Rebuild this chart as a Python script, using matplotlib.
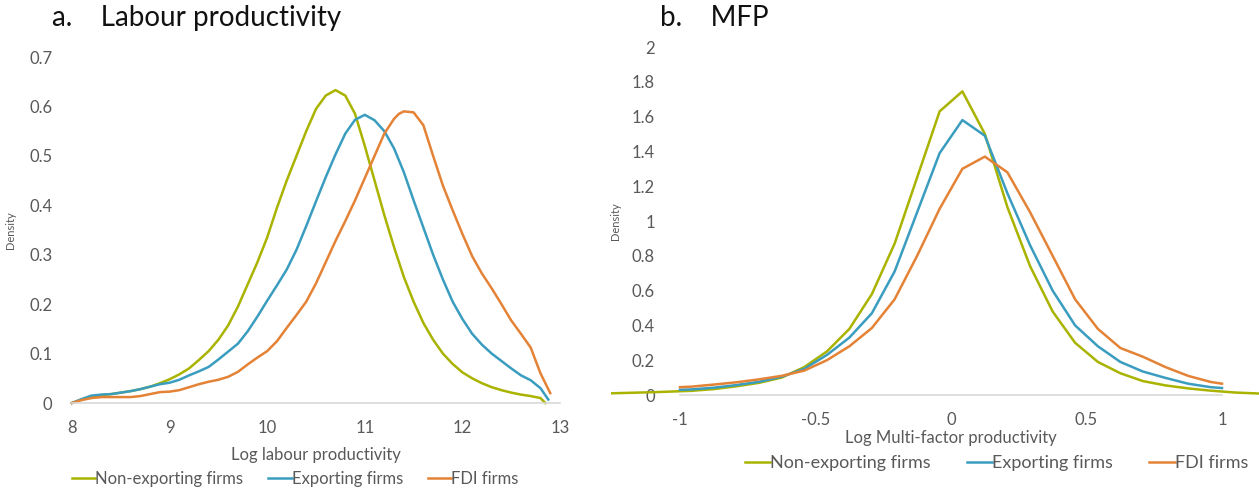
import matplotlib
matplotlib.use("Agg")
import matplotlib.pyplot as plt
import numpy as np

plt.rcParams['font.family'] = ['Lato', 'DejaVu Sans']

series_names = ["Non-exporting firms", "Exporting firms", "FDI firms"]
colors = ["#A9B300", "#3A9DBF", "#E48236"]

# Panel a: Labour productivity
lp_non_x = [8.0, 8.1, 8.2, 8.3, 8.4, 8.5, 8.6, 8.7, 8.8, 8.9, 9.0, 9.1, 9.2, 9.3, 9.4, 9.5, 9.6, 9.7,
            9.8, 9.9, 10.0, 10.1, 10.2, 10.3, 10.4, 10.5, 10.6, 10.7, 10.8, 10.9, 11.0, 11.1, 11.2,
            11.3, 11.4, 11.5, 11.6, 11.7, 11.8, 11.9, 12.0, 12.1, 12.2, 12.3, 12.4, 12.5, 12.6,
            12.7, 12.8, 12.85]
lp_non_y = [0.0, 0.007, 0.013, 0.016, 0.018, 0.021, 0.024, 0.028, 0.033, 0.04, 0.048, 0.058, 0.07, 0.087,
            0.105, 0.128, 0.157, 0.195, 0.24, 0.285, 0.335, 0.395, 0.45, 0.5, 0.55, 0.595, 0.622,
            0.633, 0.622, 0.585, 0.52, 0.45, 0.38, 0.315, 0.255, 0.205, 0.162, 0.128, 0.1, 0.079,
            0.062, 0.05, 0.04, 0.032, 0.026, 0.021, 0.017, 0.014, 0.01, 0.0]

lp_exp_x = [8.0, 8.1, 8.2, 8.3, 8.4, 8.5, 8.6, 8.7, 8.8, 8.9, 9.0, 9.1, 9.2, 9.3, 9.4, 9.5, 9.6, 9.7,
            9.8, 9.9, 10.0, 10.1, 10.2, 10.3, 10.4, 10.5, 10.6, 10.7, 10.8, 10.9, 11.0, 11.1, 11.2,
            11.3, 11.4, 11.5, 11.6, 11.7, 11.8, 11.9, 12.0, 12.1, 12.2, 12.3, 12.4, 12.5, 12.6,
            12.7, 12.8, 12.88]
lp_exp_y = [0.0, 0.008, 0.015, 0.017, 0.018, 0.021, 0.024, 0.028, 0.033, 0.038, 0.041, 0.047, 0.056, 0.064,
            0.073, 0.088, 0.104, 0.12, 0.145, 0.175, 0.207, 0.238, 0.27, 0.31, 0.358, 0.408, 0.457,
            0.503, 0.545, 0.573, 0.583, 0.572, 0.55, 0.515, 0.467, 0.41, 0.355, 0.3, 0.25, 0.205,
            0.17, 0.14, 0.118, 0.1, 0.085, 0.07, 0.056, 0.046, 0.03, 0.007]

lp_fdi_x = [8.0, 8.1, 8.2, 8.3, 8.4, 8.5, 8.6, 8.7, 8.8, 8.9, 9.0, 9.1, 9.2, 9.3, 9.4, 9.5, 9.6, 9.7,
            9.8, 9.9, 10.0, 10.1, 10.2, 10.3, 10.4, 10.5, 10.6, 10.7, 10.8, 10.9, 11.0, 11.1, 11.2,
            11.3, 11.35, 11.4, 11.5, 11.6, 11.7, 11.8, 11.9, 12.0, 12.1, 12.2, 12.3, 12.4, 12.5,
            12.6, 12.7, 12.8, 12.9]
lp_fdi_y = [0.0, 0.006, 0.01, 0.012, 0.012, 0.012, 0.012, 0.014, 0.018, 0.022, 0.023, 0.026, 0.032, 0.038,
            0.043, 0.047, 0.053, 0.063, 0.078, 0.092, 0.105, 0.125, 0.152, 0.178, 0.205, 0.242, 0.285,
            0.328, 0.368, 0.41, 0.455, 0.5, 0.545, 0.575, 0.585, 0.59, 0.588, 0.562, 0.5, 0.44,
            0.39, 0.342, 0.297, 0.262, 0.232, 0.2, 0.167, 0.14, 0.112, 0.06, 0.02]

# Panel b: MFP
mfp_non_x = [-1.25, -1.1, -0.958, -0.875, -0.792, -0.708, -0.625, -0.542, -0.458, -0.375, -0.292, -0.208,
             -0.125, -0.042, 0.042, 0.125, 0.208, 0.292, 0.375, 0.458, 0.542, 0.625, 0.708, 0.792,
             0.875, 0.958, 1.05, 1.16]
mfp_non_y = [0.01, 0.016, 0.024, 0.034, 0.05, 0.07, 0.1, 0.16, 0.25, 0.38, 0.58, 0.87, 1.25, 1.63, 1.745,
             1.5, 1.08, 0.74, 0.48, 0.3, 0.19, 0.125, 0.08, 0.055, 0.038, 0.025, 0.014, 0.007]

mfp_exp_x = [-1.0, -0.958, -0.875, -0.792, -0.708, -0.625, -0.542, -0.458, -0.375, -0.292, -0.208, -0.125,
             -0.042, 0.042, 0.125, 0.208, 0.292, 0.375, 0.458, 0.542, 0.625, 0.708, 0.792, 0.875,
             0.958, 1.0]
mfp_exp_y = [0.03, 0.032, 0.042, 0.057, 0.076, 0.105, 0.15, 0.23, 0.33, 0.47, 0.71, 1.05, 1.39, 1.58, 1.49,
             1.16, 0.86, 0.6, 0.4, 0.28, 0.19, 0.135, 0.098, 0.065, 0.045, 0.04]

mfp_fdi_x = [-1.0, -0.958, -0.875, -0.792, -0.708, -0.625, -0.542, -0.458, -0.375, -0.292, -0.208, -0.125,
             -0.042, 0.042, 0.125, 0.208, 0.292, 0.375, 0.458, 0.542, 0.625, 0.708, 0.792, 0.875,
             0.958, 1.0]
mfp_fdi_y = [0.045, 0.048, 0.06, 0.073, 0.09, 0.11, 0.14, 0.2, 0.28, 0.385, 0.55, 0.8, 1.07, 1.3, 1.37,
             1.28, 1.05, 0.8, 0.55, 0.38, 0.27, 0.22, 0.16, 0.11, 0.075, 0.065]

lp_xticks = [8, 9, 10, 11, 12, 13]
lp_yticks = [0, 0.1, 0.2, 0.3, 0.4, 0.5, 0.6, 0.7]
mfp_xticks = [-1, -0.5, 0, 0.5, 1]
mfp_yticks = [0, 0.2, 0.4, 0.6, 0.8, 1, 1.2, 1.4, 1.6, 1.8, 2]

W, H = 1259, 488
fig = plt.figure(figsize=(W / 100, H / 100), dpi=100)

def fig_rect(x0, x1, ytop, ybot):
    return [x0 / W, 1 - ybot / H, (x1 - x0) / W, (ybot - ytop) / H]

tick_col = "#595959"

def style(ax):
    for s in ["top", "right", "left"]:
        ax.spines[s].set_visible(False)
    ax.spines["bottom"].set_color("#d9d9d9")
    ax.spines["bottom"].set_linewidth(1.2)
    ax.tick_params(length=0, labelsize=12, labelcolor=tick_col)

def fmt(v):
    return "%g" % v

# Left
ax1 = fig.add_axes(fig_rect(72, 560, 57, 403))
style(ax1)
for xs, ys, c, n in zip([lp_non_x, lp_exp_x, lp_fdi_x], [lp_non_y, lp_exp_y, lp_fdi_y], colors, series_names):
    ax1.plot(xs, ys, color=c, lw=1.8, label=n, clip_on=False)
ax1.set_xlim(8, 13)
ax1.set_ylim(0, 0.7)
ax1.set_xticks(lp_xticks)
ax1.set_xticklabels([fmt(v) for v in lp_xticks])
ax1.set_yticks(lp_yticks)
ax1.set_yticklabels([fmt(v) for v in lp_yticks])
ax1.tick_params(axis="y", pad=14)
ax1.tick_params(axis="x", pad=12)
ax1.set_xlabel("Log labour productivity", fontsize=12, color=tick_col, labelpad=8)
ax1.set_ylabel("Density", fontsize=8, color=tick_col, labelpad=10)
ax1.legend(loc="upper left", bbox_to_anchor=(0.0, -0.196), ncol=3, frameon=False,
           fontsize=12, handlelength=1.4, handletextpad=0.0, columnspacing=1.5,
           labelcolor=tick_col, borderaxespad=0, borderpad=0)

# Right
ax2 = fig.add_axes(fig_rect(680, 1222, 47, 395))
style(ax2)
for xs, ys, c, n in zip([mfp_non_x, mfp_exp_x, mfp_fdi_x], [mfp_non_y, mfp_exp_y, mfp_fdi_y], colors, series_names):
    ax2.plot(xs, ys, color=c, lw=1.8, label=n, clip_on=False)
ax2.set_xlim(-1, 1)
ax2.set_ylim(0, 2)
ax2.set_xticks(mfp_xticks)
ax2.set_xticklabels([fmt(v) for v in mfp_xticks])
ax2.set_yticks(mfp_yticks)
ax2.set_yticklabels([fmt(v) for v in mfp_yticks])
ax2.tick_params(axis="y", pad=18)
ax2.tick_params(axis="x", pad=12)
ax2.set_xlabel("Log Multi-factor productivity", fontsize=12, color=tick_col, labelpad=2)
ax2.set_ylabel("Density", fontsize=8, color=tick_col, labelpad=8)
ax2.legend(loc="upper left", bbox_to_anchor=(0.12, -0.172), ncol=3, frameon=False,
           fontsize=13, handlelength=1.4, handletextpad=0.0, columnspacing=2.0,
           labelcolor=tick_col, borderaxespad=0, borderpad=0)

fig.text(52 / W, 1 - 18 / H, "a.    Labour productivity", fontsize=20, va="center", ha="left", color="#111111")
fig.text(660 / W, 1 - 18 / H, "b.    MFP", fontsize=20, va="center", ha="left", color="#111111")

fig.savefig("out.png", dpi=100)
